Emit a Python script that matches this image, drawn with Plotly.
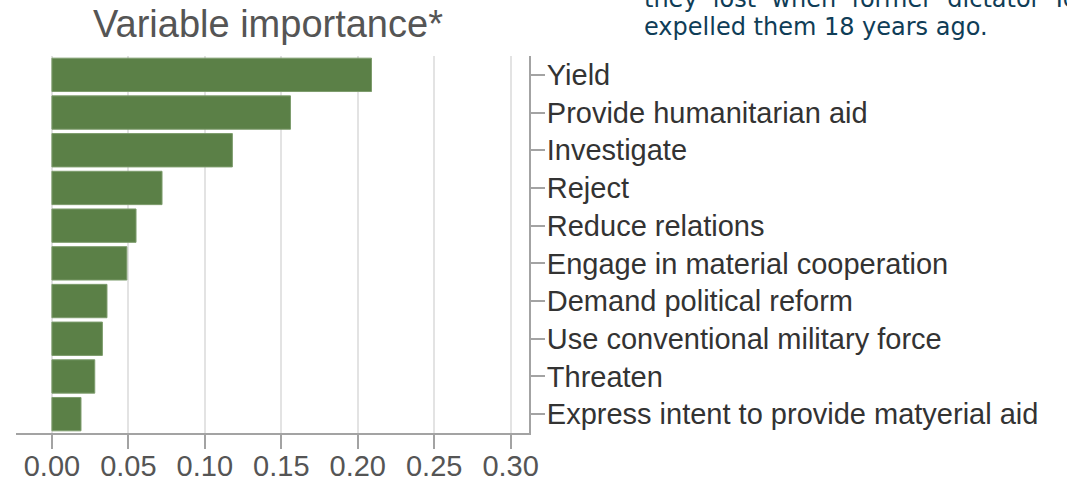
import plotly.graph_objects as go

categories = [
    "Yield",
    "Provide humanitarian aid",
    "Investigate",
    "Reject",
    "Reduce relations",
    "Engage in material cooperation",
    "Demand political reform",
    "Use conventional military force",
    "Threaten",
    "Express intent to provide matyerial aid",
]
importance = [0.209, 0.156, 0.118, 0.072, 0.055, 0.049, 0.036, 0.033, 0.028, 0.019]
x_ticks = [0.00, 0.05, 0.10, 0.15, 0.20, 0.25, 0.30]
x_tick_labels = ["0.00", "0.05", "0.10", "0.15", "0.20", "0.25", "0.30"]

title_text = "Variable importance*"
side_text_1 = "they  lost  when  former  dictator  Id"
side_text_2 = "expelled them 18 years ago."

W, H = 1067, 484
L, R, T, B = 16, 529, 56, 433


def px_x(px):
    return (px - L) / (R - L)


def px_y(py):
    return (B - py) / (B - T)


fig = go.Figure()
fig.add_trace(go.Bar(
    x=importance,
    y=categories,
    orientation="h",
    marker=dict(color="#5b8047", line=dict(width=1, color="#7d9c6c")),
    hoverinfo="x+y",
))

axis_col = "#a3a3a3"
fig.update_layout(
    width=W, height=H,
    margin=dict(l=L, r=W - R, t=T, b=H - B, pad=0),
    paper_bgcolor="white",
    plot_bgcolor="white",
    bargap=0.115,
    showlegend=False,
    font=dict(family="Liberation Sans, Arial, sans-serif"),
    xaxis=dict(
        range=[-0.0235, 0.312],
        tickvals=x_ticks,
        ticktext=x_tick_labels,
        showgrid=True,
        gridcolor="#e3e3e3",
        gridwidth=2,
        zeroline=False,
        showline=True,
        linecolor=axis_col,
        linewidth=2,
        ticks="outside",
        ticklen=14,
        tickwidth=2,
        tickcolor=axis_col,
        ticklabelstandoff=-8,
        tickfont=dict(size=29, color="#555555", family="Liberation Sans, Arial, sans-serif"),
        automargin=False,
        fixedrange=True,
    ),
    yaxis=dict(
        side="right",
        categoryorder="array",
        categoryarray=categories,
        autorange=False,
        range=[9.5, -0.5],
        showgrid=False,
        zeroline=False,
        showline=True,
        linecolor=axis_col,
        linewidth=2,
        ticks="outside",
        ticklen=14,
        tickwidth=2,
        tickcolor=axis_col,
        ticklabelstandoff=-4,
        tickfont=dict(size=29, color="#333333", family="Liberation Sans, Arial, sans-serif"),
        automargin=False,
        fixedrange=True,
    ),
    annotations=[
        dict(
            text=title_text, xref="paper", yref="paper",
            x=px_x(268), y=px_y(24),
            xanchor="center", yanchor="middle", showarrow=False,
            font=dict(size=38, color="#555555", family="Liberation Sans, Arial, sans-serif"),
        ),
        dict(
            text=side_text_1, xref="paper", yref="paper",
            x=px_x(642), y=px_y(-1),
            xanchor="left", yanchor="middle", showarrow=False,
            font=dict(size=24, color="#0f3d57", family="DejaVu Sans, Verdana, sans-serif"),
        ),
        dict(
            text=side_text_2, xref="paper", yref="paper",
            x=px_x(642), y=px_y(27),
            xanchor="left", yanchor="middle", showarrow=False,
            font=dict(size=24, color="#0f3d57", family="DejaVu Sans, Verdana, sans-serif"),
        ),
    ],
)

fig.write_html(
    "out.html",
    config={"displayModeBar": False, "staticPlot": True},
    post_script="document.body.style.margin='0';document.body.style.padding='0';",
)
